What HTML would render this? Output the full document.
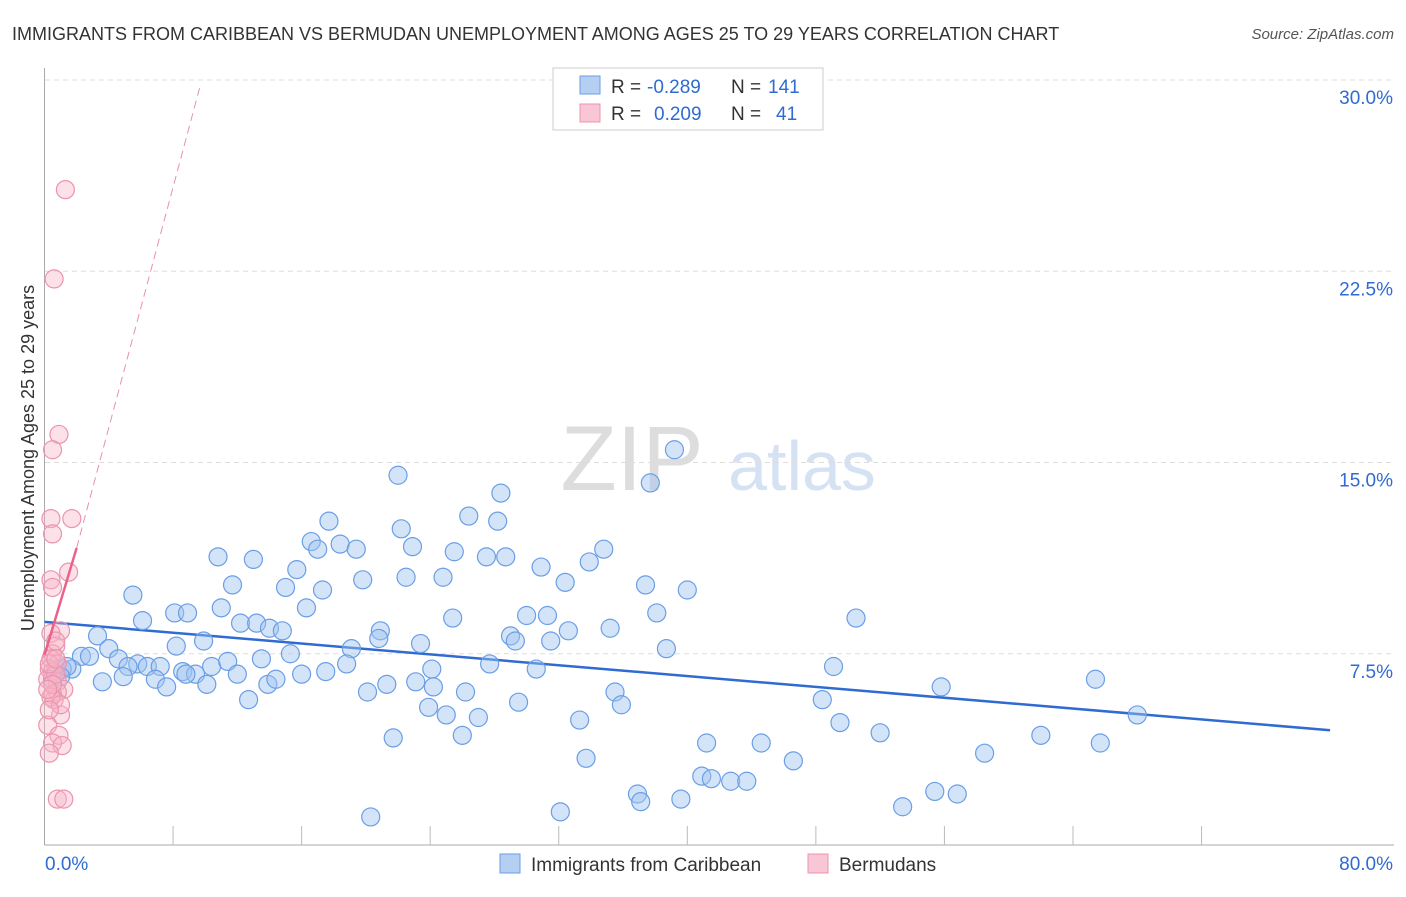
<!DOCTYPE html>
<html><head><meta charset="utf-8"><style>
body{margin:0;background:#fff;font-family:"Liberation Sans",sans-serif;}
svg text{font-family:"Liberation Sans",sans-serif;}
</style></head><body>
<svg id="chart" width="1406" height="892" xmlns="http://www.w3.org/2000/svg">
<text x="12" y="40" font-size="18" fill="#333">IMMIGRANTS FROM CARIBBEAN VS BERMUDAN UNEMPLOYMENT AMONG AGES 25 TO 29 YEARS CORRELATION CHART</text>
<text x="1394" y="39" font-size="15" fill="#555" text-anchor="end" font-style="italic">Source: ZipAtlas.com</text>
<g>
<text x="632" y="490" font-size="92" fill="#ddd" text-anchor="middle" font-family="Liberation Serif">ZIP</text>
<text x="802" y="490" font-size="70" fill="#d4e2f4" text-anchor="middle">atlas</text>
</g>
<g id="grid"></g><g id="axes"></g><g id="trend"></g><g id="pts"></g>
<text transform="translate(34,458) rotate(-90)" font-size="18" fill="#333" text-anchor="middle">Unemployment Among Ages 25 to 29 years</text>
<g>
<rect x="553" y="68" width="270" height="62" fill="#fff" stroke="#ccc"/>
<rect x="580" y="76" width="20" height="18" fill="#b5cff3" stroke="#6a9ee6"/>
<rect x="580" y="104" width="20" height="18" fill="#f9c6d5" stroke="#eb94ae"/>
<text x="611" y="93" font-size="19" fill="#333">R = </text><text x="647" y="93" font-size="19" fill="#2f6bd1">-0.289</text>
<text x="731" y="93" font-size="19" fill="#333">N = </text><text x="768" y="93" font-size="19" fill="#2f6bd1">141</text>
<text x="611" y="120" font-size="19" fill="#333">R = </text><text x="654" y="120" font-size="19" fill="#2f6bd1">0.209</text>
<text x="731" y="120" font-size="19" fill="#333">N = </text><text x="776" y="120" font-size="19" fill="#2f6bd1">41</text>
</g>
<g>
<rect x="500" y="854" width="20" height="19" fill="#b5cff3" stroke="#6a9ee6"/>
<text x="531" y="871" font-size="19" fill="#333">Immigrants from Caribbean</text>
<rect x="808" y="854" width="20" height="19" fill="#f9c6d5" stroke="#eb94ae"/>
<text x="839" y="871" font-size="19" fill="#333">Bermudans</text>
</g>
</svg>
<script>
const yTicks=[7.5,15,22.5,30];
const yTickLabels=["7.5%","15.0%","22.5%","30.0%"];
const xTicks=[0,8,16,24,32,40,48,56,64,72,80];
const blueX=[39.2,22.0,37.7,28.4,26.4,17.7,28.2,22.2,16.6,17.0,18.4,22.9,19.4,25.5,34.8,10.8,13.0,27.5,28.7,15.7,30.9,33.9,22.5,24.8,11.7,15.0,19.8,17.3,32.4,37.4,40.0,5.5,8.1,8.9,11.0,16.3,25.4,30.0,31.3,38.1,50.5,6.1,12.2,13.2,14.0,14.8,20.9,20.8,23.4,29.0,29.3,31.5,32.6,35.2,3.3,4.0,8.2,9.9,19.1,38.7,2.3,2.8,4.6,5.8,6.4,7.2,5.2,8.6,9.4,10.4,11.4,13.5,15.3,16.0,17.5,18.8,24.1,27.7,30.6,49.1,1.7,3.6,4.9,6.9,7.6,8.8,10.1,12.0,13.9,14.4,21.3,23.1,24.2,26.2,20.1,35.5,55.8,65.4,12.7,23.9,25.0,27.0,29.5,33.3,35.9,48.4,49.5,68.0,21.7,26.0,52.0,41.2,44.6,62.0,65.7,33.7,58.5,46.6,40.9,41.5,42.7,43.7,36.9,37.1,39.6,55.4,56.8,53.4,32.1,20.3,0.7,1.1,1.4,0.5,1.0];
const blueY=[15.5,14.5,14.2,13.8,12.9,12.7,12.7,12.4,11.9,11.6,11.8,11.7,11.6,11.5,11.6,11.3,11.2,11.3,11.3,10.8,10.9,11.1,10.5,10.5,10.2,10.1,10.4,10.0,10.3,10.2,10.0,9.8,9.1,9.1,9.3,9.3,8.9,9.0,9.0,9.1,8.9,8.8,8.7,8.7,8.5,8.4,8.4,8.1,7.9,8.2,8.0,8.0,8.4,8.5,8.2,7.7,7.8,8.0,7.7,7.7,7.4,7.4,7.3,7.1,7.0,7.0,7.0,6.8,6.7,7.0,7.2,7.3,7.5,6.7,6.8,7.1,6.9,7.1,6.9,7.0,6.9,6.4,6.6,6.5,6.2,6.7,6.3,6.7,6.3,6.5,6.3,6.4,6.2,6.0,6.0,6.0,6.2,6.5,5.7,5.4,5.1,5.0,5.6,4.9,5.5,5.7,4.8,5.1,4.2,4.3,4.4,4.0,4.0,4.3,4.0,3.4,3.6,3.3,2.7,2.6,2.5,2.5,2.0,1.7,1.8,2.1,2.0,1.5,1.3,1.1,6.9,6.9,7.0,6.5,6.6];
const pinkX=[1.3,0.6,0.9,0.5,1.7,0.4,0.5,1.5,0.4,0.5,1.0,0.4,0.7,0.5,0.4,0.8,0.3,0.5,0.2,0.8,1.2,0.5,0.8,0.6,0.4,1.0,0.2,0.9,0.5,1.1,0.3,0.8,1.2,0.7,0.3,0.5,0.7,0.2,1.0,0.3,0.7];
const pinkY=[25.7,22.2,16.1,15.5,12.8,12.8,12.2,10.7,10.4,10.1,8.4,8.3,7.8,7.5,7.3,7.1,6.9,6.8,6.5,6.4,6.1,5.9,6.0,5.7,5.8,5.1,4.7,4.3,4.0,3.9,3.6,1.8,1.8,6.7,7.1,6.3,8.0,6.1,5.5,5.3,7.3];
const blueTrendX=[0,80], blueTrendY=[8.75,4.5];
const pinkTrendX=[0,2.0,9.7], pinkTrendY=[7.45,11.65,29.8];
const X=v=>44.5+v*16.07, Y=v=>845-v*25.5;
const NS="http://www.w3.org/2000/svg";
function mk(parent,tag,attrs){const e=document.createElementNS(NS,tag);for(const k in attrs)e.setAttribute(k,attrs[k]);document.getElementById(parent).appendChild(e);return e;}
yTicks.forEach((t,i)=>{
 const l=mk('grid','line',{x1:45,x2:1394,y1:Y(t),y2:Y(t),stroke:'#ddd','stroke-dasharray':'5,4'});
 
 
 const tx=mk('grid','text',{x:1393,y:Y(t)+24,'font-size':19,fill:'#2f6bd1','text-anchor':'end'});
 tx.textContent=yTickLabels[i];
 
 
});
let a=mk('axes','line',{x1:44.5,x2:44.5,y1:68,y2:845,stroke:'#aaa'});


a=mk('axes','line',{x1:44.5,x2:1394,y1:845,y2:845,stroke:'#aaa'});


xTicks.slice(1,10).forEach(t=>{
 const l=mk('axes','line',{x1:X(t),x2:X(t),y1:826,y2:845,stroke:'#bbb'});
 
 
});
let xl=mk('axes','text',{x:45,y:870,'font-size':19,fill:'#2f6bd1'});xl.textContent=xTicks[0].toFixed(1)+'%';


xl=mk('axes','text',{x:1393,y:870,'font-size':19,fill:'#2f6bd1','text-anchor':'end'});xl.textContent=xTicks[10].toFixed(1)+'%';


blueX.forEach((v,i)=>{
 const c=mk('pts','circle',{cx:X(v),cy:Y(blueY[i]),r:9,fill:'rgba(160,196,240,0.45)',stroke:'#6a9ee6','stroke-width':1.2});
 
 
});
pinkX.forEach((v,i)=>{
 const c=mk('pts','circle',{cx:X(v),cy:Y(pinkY[i]),r:9,fill:'rgba(248,180,200,0.4)',stroke:'#eb94ae','stroke-width':1.2});
 
 
});
let t=mk('trend','line',{x1:X(blueTrendX[0]),y1:Y(blueTrendY[0]),x2:X(blueTrendX[1]),y2:Y(blueTrendY[1]),stroke:'#2f6bd1','stroke-width':2.5});


t=mk('trend','line',{x1:X(pinkTrendX[1]),y1:Y(pinkTrendY[1]),x2:X(pinkTrendX[2]),y2:Y(pinkTrendY[2]),stroke:'#e990aa','stroke-width':1,'stroke-dasharray':'8,5'});


t=mk('pts','line',{x1:X(pinkTrendX[0]),y1:Y(pinkTrendY[0]),x2:X(pinkTrendX[1]),y2:Y(pinkTrendY[1]),stroke:'#e8628a','stroke-width':2.5});


</script>
</body></html>
